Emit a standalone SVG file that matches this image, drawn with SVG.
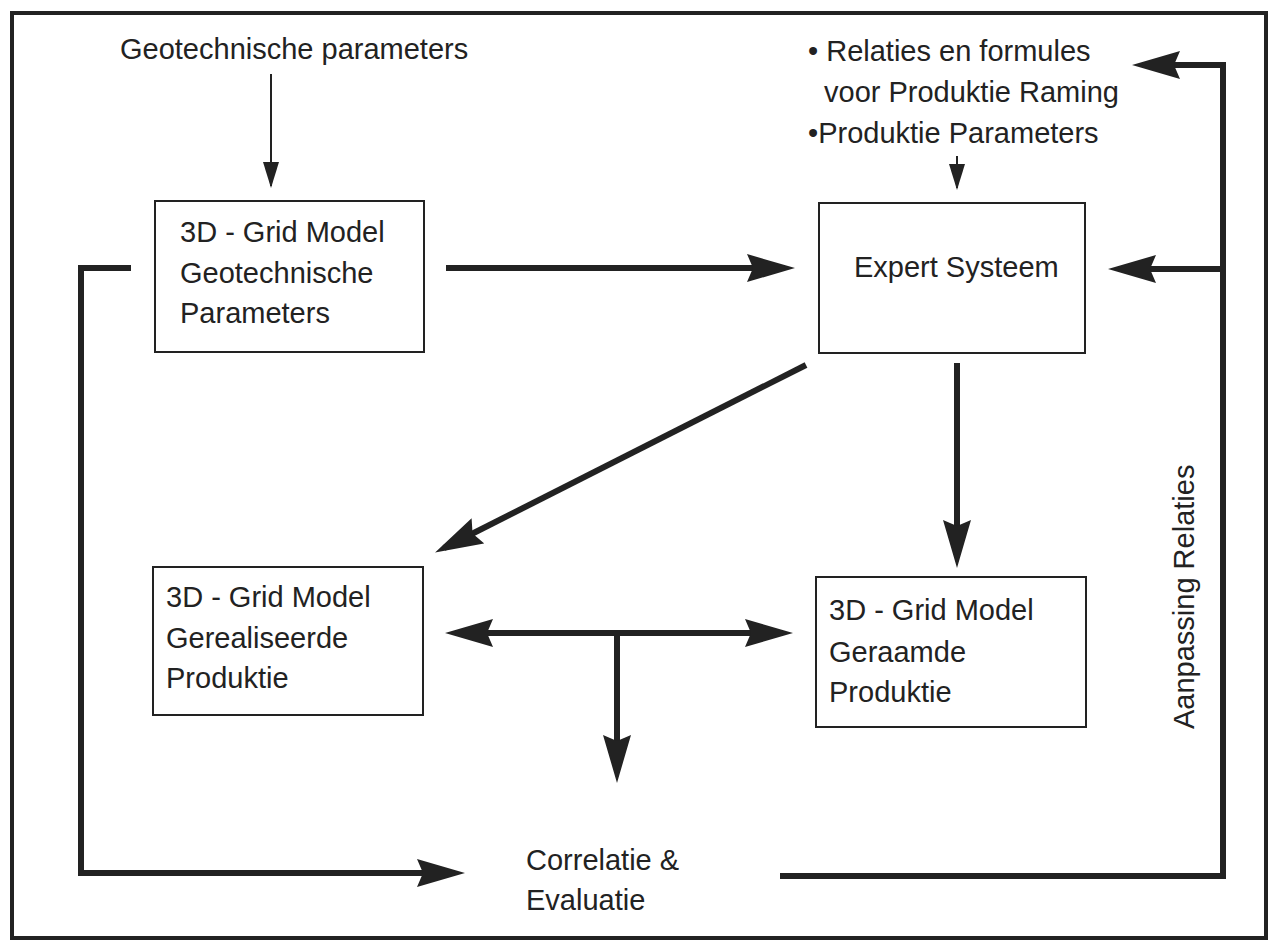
<svg xmlns="http://www.w3.org/2000/svg" width="1271" height="943" viewBox="0 0 1271 943">
<style>
  text { font-family: "Liberation Sans", Arial, sans-serif; font-size: 29px; fill: #222; }
  .box { fill: #fff; stroke: #222; stroke-width: 2; }
  .thick { fill: none; stroke: #222; stroke-width: 6; }
  .thin { fill: none; stroke: #222; stroke-width: 2; }
</style>
<defs>
  <marker id="big" markerUnits="userSpaceOnUse" markerWidth="48" markerHeight="30" viewBox="0 0 48 30" refX="38" refY="15" orient="auto-start-reverse">
    <path d="M0,1 L48,15 L0,29 L6,15 z" fill="#222"/>
  </marker>
  <marker id="small" markerUnits="userSpaceOnUse" markerWidth="26" markerHeight="16" viewBox="0 0 26 16" refX="24" refY="8" orient="auto">
    <path d="M0,0 L26,8 L0,16 z" fill="#222"/>
  </marker>
</defs>
<rect width="1271" height="943" fill="#fff"/>
<rect x="12" y="13" width="1254" height="925" fill="none" stroke="#222" stroke-width="4"/>

<g id="connectors">
  <line class="thin" x1="271" y1="74" x2="271" y2="186" marker-end="url(#small)"/>
  <line class="thin" x1="957" y1="156" x2="957" y2="188" marker-end="url(#small)"/>
  <path class="thick" d="M131,268 H81 V873 H455" marker-end="url(#big)"/>
  <path class="thick" d="M446,268 H785" marker-end="url(#big)"/>
  <path class="thick" d="M780,876 H1223 V65 H1142" marker-end="url(#big)"/>
  <path class="thick" d="M1223,269 H1118" marker-end="url(#big)"/>
  <path class="thick" d="M957,363 V558" marker-end="url(#big)"/>
  <path class="thick" d="M806,365 L444,548" marker-end="url(#big)"/>
  <path class="thick" d="M455,633 H783" marker-start="url(#big)" marker-end="url(#big)"/>
  <path class="thick" d="M617,633 V773" marker-end="url(#big)"/>
</g>

<g id="label-geotech-params">
  <text x="120" y="59">Geotechnische parameters</text>
</g>
<g id="label-relaties">
  <text x="808" y="61">• Relaties en formules</text>
  <text x="824" y="102">voor Produktie Raming</text>
  <text x="808" y="143">•Produktie Parameters</text>
</g>
<g id="node-grid-geotech">
  <rect class="box" x="155" y="201" width="269" height="151"/>
  <text x="180" y="242">3D - Grid Model</text>
  <text x="180" y="283">Geotechnische</text>
  <text x="180" y="323">Parameters</text>
</g>
<g id="node-expert">
  <rect class="box" x="819" y="203" width="266" height="150"/>
  <text x="854" y="277">Expert Systeem</text>
</g>
<g id="node-grid-gerealiseerd">
  <rect class="box" x="153" y="567" width="270" height="148"/>
  <text x="166" y="607">3D - Grid Model</text>
  <text x="166" y="648">Gerealiseerde</text>
  <text x="166" y="688">Produktie</text>
</g>
<g id="node-grid-geraamd">
  <rect class="box" x="816" y="577" width="270" height="150"/>
  <text x="829" y="620">3D - Grid Model</text>
  <text x="829" y="662">Geraamde</text>
  <text x="829" y="702">Produktie</text>
</g>
<g id="node-correlatie">
  <text x="526" y="870">Correlatie &amp;</text>
  <text x="526" y="910">Evaluatie</text>
</g>
<g id="label-aanpassing">
  <text transform="translate(1194,729) rotate(-90)">Aanpassing Relaties</text>
</g>
</svg>
